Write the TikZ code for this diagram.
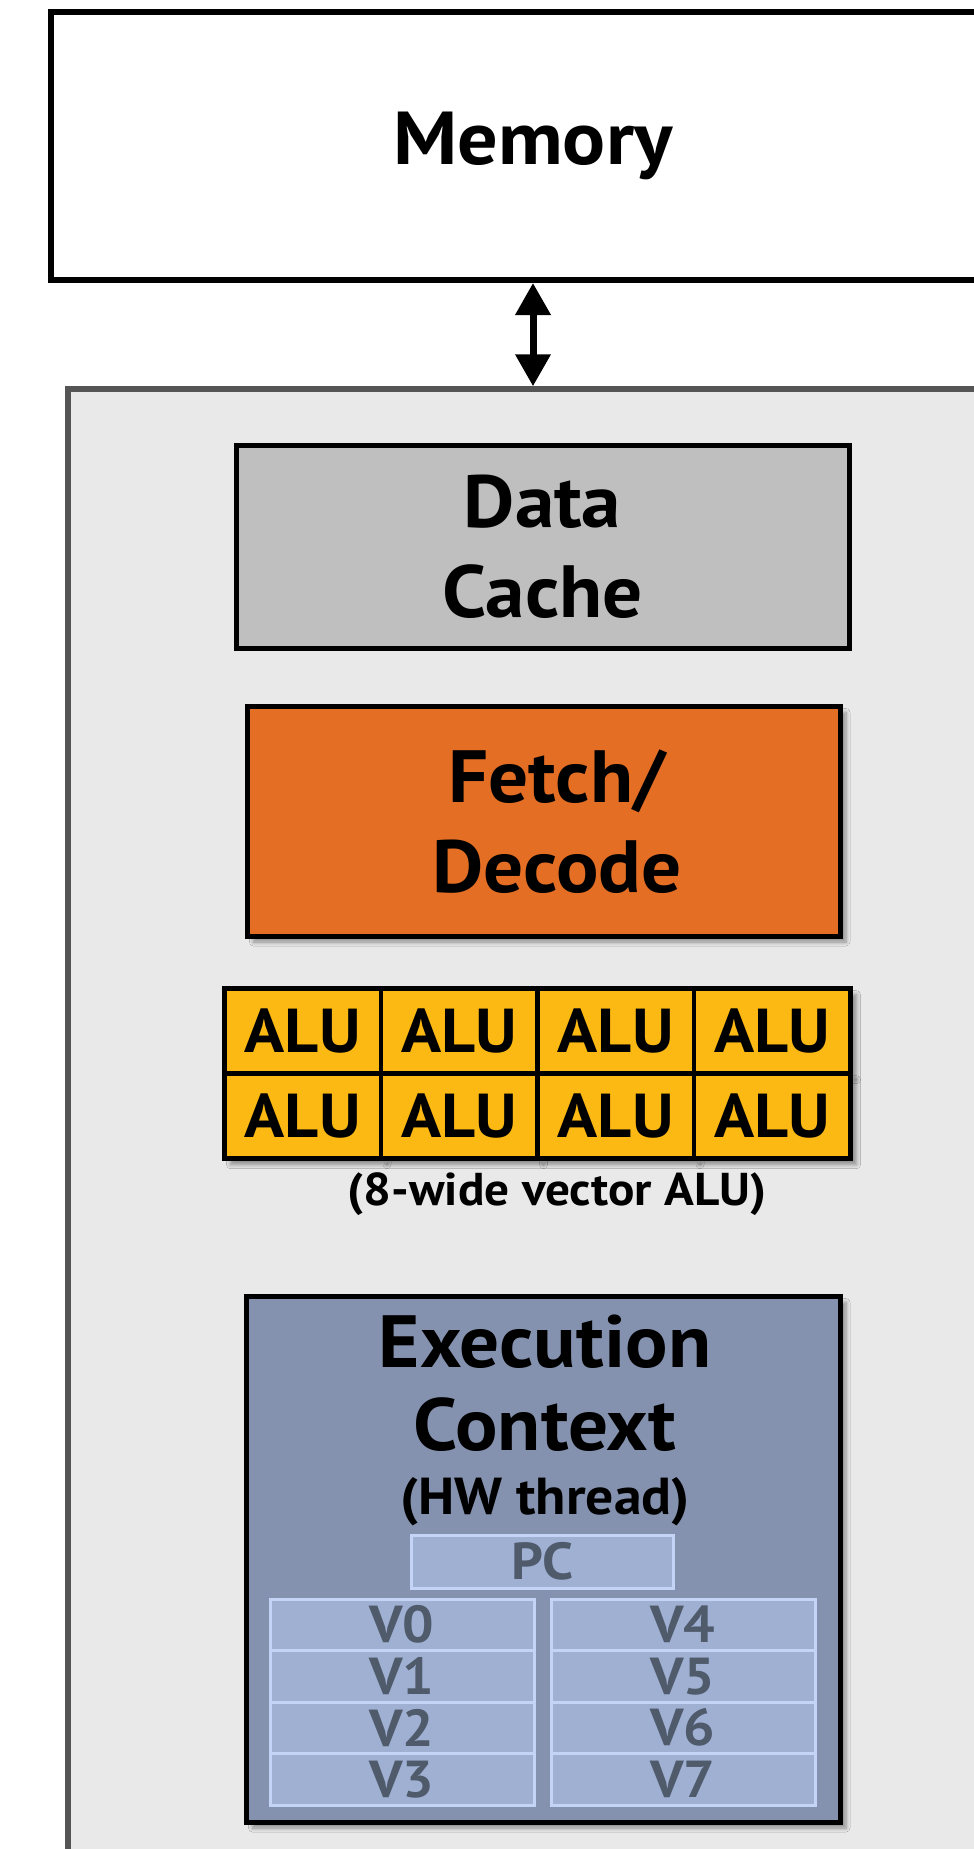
\documentclass[tikz,border=0pt]{standalone}
\usepackage{fontspec}
\setmainfont{PT Sans}[FakeStretch=1.07]
\usetikzlibrary{arrows.meta,positioning,shadows.blur}
\definecolor{coregray}{HTML}{E9E9E9}
\definecolor{coreline}{HTML}{555555}
\definecolor{cachegray}{HTML}{BFBFBF}
\definecolor{fetchorange}{HTML}{E36E24}
\definecolor{aluyellow}{HTML}{FDB913}
\definecolor{ctxblue}{HTML}{8592AF}
\definecolor{regfill}{HTML}{9FB0D3}
\definecolor{regline}{HTML}{C3D4F7}
\definecolor{regtext}{HTML}{4F5A6B}

\begin{document}
\begin{tikzpicture}[x=0.5pt, y=-0.5pt,
    unit/.style={draw, line width=2.5pt, inner sep=0pt, align=center,
      font=\bfseries\fontsize{37}{45}\selectfont},
    shade/.style={blur shadow={shadow xshift=3pt, shadow yshift=-3pt,
      shadow blur steps=6, shadow opacity=40}},
    alubox/.style={unit, fill=aluyellow, line width=2.25pt, minimum width=78.25pt,
      minimum height=42.5pt, font=\bfseries\fontsize{31}{31}\selectfont},
    reg/.style={draw=regline, fill=regfill, line width=1.5pt, inner sep=0pt,
      text=regtext, minimum width=132pt, minimum height=25.75pt,
      font=\bfseries\fontsize{26}{26}\selectfont}]
  \useasboundingbox (0,0) rectangle (974,1849);
  \clip (0,0) rectangle (974,1849);

  % memory and the core
  \node[unit, fill=white, line width=3pt, minimum width=482pt, minimum height=134pt,
    font=\bfseries\fontsize{37.5}{37.5}\selectfont] (mem) at (533,146) {Memory};
  \node[draw=coreline, fill=coregray, line width=2.75pt, minimum width=466pt, minimum height=755.5pt] (core) at (534,1144.5) {};
  \draw[line width=3.5pt, {Triangle[length=16pt,width=17pt]}-{Triangle[length=16pt,width=17pt]}]
    (mem.south) -- (mem.south |- core.north);

  \node[unit, fill=cachegray, minimum width=306.5pt, minimum height=101.5pt] (dcache) at (542.5,546.5) {Data\\Cache};
  \node[unit, shade, fill=fetchorange, minimum width=296.25pt, minimum height=114.75pt] (fetch) at (543.75,821.25) {};
  \node[align=center, font=\bfseries\fontsize{37}{45}\selectfont] (fetchtxt) at (557,821.25) {Fetch/\\Decode};

  % 8-wide ALU
  \foreach \r in {0,1}
    \foreach \c in {0,...,3}
      \node[alubox, shade] (alu\r\c) at (302.75+156.5*\c, 1031.2+85*\r) {ALU};
  \node[font=\bfseries\fontsize{23}{23}\selectfont, anchor=base] (alucap) at (557,1205) {(8-wide vector ALU)};

  % execution context
  \node[unit, shade, fill=ctxblue, minimum width=296.75pt, minimum height=262.75pt] (ctx) at (543.25,1559.25) {};
  \node[font=\bfseries\fontsize{37}{37}\selectfont, anchor=base] (ctxa) at (545,1367) {Execution};
  \node[font=\bfseries\fontsize{37}{37}\selectfont, anchor=base] (ctxb) at (545,1450.5) {Context};
  \node[font=\bfseries\fontsize{26}{26}\selectfont, anchor=base] (ctxc) at (545,1514) {(HW thread)};
  \node[reg, minimum width=131pt, minimum height=26.75pt] (pc) at (542.5,1561.75) {PC};
  \foreach \i/\j in {0/4,1/5,2/6,3/7} {
    \node[reg] (v\i) at (402,1624.75+51.5*\i) {V\i};
    \node[reg] (v\j) at (683,1624.75+51.5*\i) {V\j};
  }
\end{tikzpicture}
\end{document}
